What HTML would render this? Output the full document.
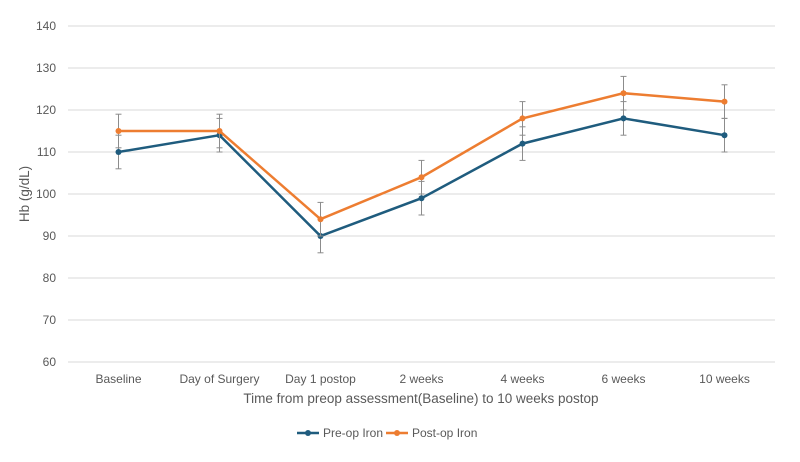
<!DOCTYPE html>
<html><head><meta charset="utf-8"><style>
body{margin:0;background:#fff;font-family:"Liberation Sans",sans-serif;}
svg text{font-family:"Liberation Sans",sans-serif;}
</style></head><body>
<svg id="chart" width="800" height="457"></svg>
<script>
const categories=["Baseline","Day of Surgery","Day 1 postop","2 weeks","4 weeks","6 weeks","10 weeks"];
const preOp=[110,114,90,99,112,118,114];
const postOp=[115,115,94,104,118,124,122];
const preErr=[4,4,4,4,4,4,4];
const postErr=[4,4,4,4,4,4,4];
const yTicks=[60,70,80,90,100,110,120,130,140];
const svgEl=document.getElementById('chart');
const NS='http://www.w3.org/2000/svg';
const plotL=68,plotR=775,plotT=26,plotB=362,yMin=60,yMax=140;
const band=(plotR-plotL)/categories.length;
const xs=i=>plotL+band*(i+0.5);
const ys=v=>plotB-(v-yMin)/(yMax-yMin)*(plotB-plotT);
function mk(t,a,p){const e=document.createElementNS(NS,t);for(const k in a)e.setAttribute(k,a[k]);(p||svgEl).appendChild(e);return e;}
yTicks.forEach(t=>{
 const g=mk('line',{x1:plotL,x2:plotR,y1:ys(t),y2:ys(t),stroke:'#d9d9d9','stroke-width':1});
 
 
 const l=mk('text',{x:56,y:ys(t)+4,'text-anchor':'end','font-size':12,fill:'#595959'});l.textContent=t;
 
 
});
categories.forEach((c,i)=>{
 const l=mk('text',{x:xs(i),y:383,'text-anchor':'middle','font-size':12,fill:'#595959'});l.textContent=c;
 
 
});
function series(vals,errs,color,name){
 const g=mk('g',{});
 
 
 vals.forEach((v,i)=>{
  const e=mk('g',{stroke:'#8c8c8c','stroke-width':1},g);
  
  
  mk('line',{x1:xs(i),x2:xs(i),y1:ys(v-errs[i]),y2:ys(v+errs[i])},e);
  mk('line',{x1:xs(i)-3,x2:xs(i)+3,y1:ys(v-errs[i]),y2:ys(v-errs[i])},e);
  mk('line',{x1:xs(i)-3,x2:xs(i)+3,y1:ys(v+errs[i]),y2:ys(v+errs[i])},e);
 });
 const p=mk('polyline',{points:vals.map((v,i)=>xs(i)+','+ys(v)).join(' '),fill:'none',stroke:color,'stroke-width':2.5},g);
 
 
 vals.forEach((v,i)=>{
  const c=mk('circle',{cx:xs(i),cy:ys(v),r:3,fill:color},g);
  
  
 });
}
series(preOp,preErr,'#1f5c7e','pre-op-iron');
series(postOp,postErr,'#ed7d31','post-op-iron');
const xt=mk('text',{x:421,y:403,'text-anchor':'middle','font-size':13.5,fill:'#595959'});xt.textContent='Time from preop assessment(Baseline) to 10 weeks postop';


const yt=mk('text',{x:0,y:0,'text-anchor':'middle','font-size':13.5,fill:'#595959',transform:'translate(29,194) rotate(-90)'});yt.textContent='Hb  (g/dL)';


[['Pre-op Iron','#1f5c7e',297],['Post-op Iron','#ed7d31',386]].forEach(([n,c,lx])=>{
 const g=mk('g',{});
 
 
 mk('line',{x1:lx,x2:lx+22,y1:433,y2:433,stroke:c,'stroke-width':2.5},g);
 mk('circle',{cx:lx+11,cy:433,r:3,fill:c},g);
 const t=mk('text',{x:lx+26,y:437,'font-size':12,fill:'#595959'},g);t.textContent=n;
});
</script>
</body></html>
